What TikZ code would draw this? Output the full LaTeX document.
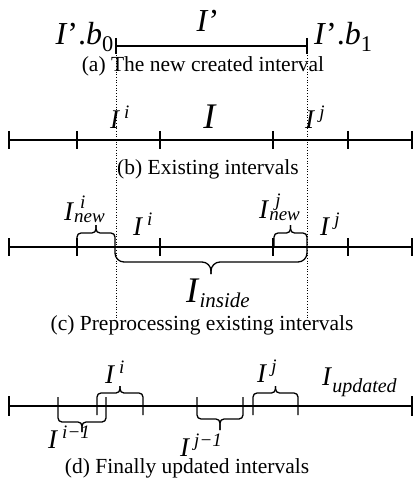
\documentclass[tikz,border=0pt]{standalone}
\usepackage{fontspec}
\setmainfont{Liberation Serif}
\newcommand{\Ix}{\textit{I}}
\newcommand{\Sp}[1]{\hspace{4pt}\raisebox{10pt}{\fontsize{19}{19}\selectfont\textit{#1}}}
\newcommand{\Sb}[3]{\raisebox{-#2}{\fontsize{#1}{#1}\selectfont\textit{#3}}}
\newcommand{\SpSb}[2]{\rlap{\hspace{6pt}\raisebox{12pt}{\fontsize{19}{19}\selectfont\textit{#1}}}\raisebox{-2pt}{\fontsize{19}{19}\selectfont\textit{#2}}}
\tikzset{
  axisline/.style={line width=1.8pt},
  tickline/.style={line width=1.3pt},
  brc/.style={line width=1.3pt, rounded corners=4pt},
  bigbrc/.style={line width=1.3pt, rounded corners=9pt},
  guide/.style={dotted, line width=0.7pt},
  captxt/.style={font=\fontsize{21.5}{24}\selectfont, anchor=base, inner sep=0pt},
  lbl/.style={font=\fontsize{27}{28}\selectfont, anchor=base west, inner sep=0pt},
  bigtxt/.style={font=\fontsize{36}{38}\selectfont, anchor=base west, inner sep=0pt},
  toptxt/.style={font=\fontsize{32}{34}\selectfont, inner sep=0pt},
}
\begin{document}
\begin{tikzpicture}[x=1pt,y=-1pt]
\useasboundingbox (0,0) rectangle (414,489);
% (a)
\coordinate (a0) at (116,46);
\coordinate (a1) at (307,46);
\draw[line width=2pt] (a0) -- (a1);
\draw[tickline] (116,38) -- (116,54) (307,38) -- (307,54);
\node[toptxt, anchor=base] (Ip) at (208,32) {\Ix’};
\node[toptxt, anchor=base east] (b0) at (114,45) {\Ix’.\textit{b}\textsubscript{0}};
\node[toptxt, anchor=base west] (b1) at (314,45) {\Ix’.\textit{b}\textsubscript{1}};
\node[captxt] (ca) at (203,72) {(a) The new created interval};
% guides
\coordinate (g0t) at (116,50);
\coordinate (g0b) at (116,318);
\coordinate (g1t) at (307,50);
\coordinate (g1b) at (307,318);
\draw[guide] (g0t) -- (g0b);
\draw[guide] (g1t) -- (g1b);
% (b)
\coordinate (bl) at (9,140);
\coordinate (br) at (412,140);
\draw[axisline] (bl) -- (br);
\foreach \x in {9,77,160,273,348,412} \draw[tickline] (\x,131) -- (\x,149);
\node[lbl] (bi) at (110,129) {\Ix\Sp{i}};
\node[bigtxt, anchor=base] (bI) at (210,129) {\Ix};
\node[lbl] (bj) at (305,129) {\Ix\Sp{j}};
\node[captxt] (cb) at (208,175) {(b) Existing intervals};
% (c)
\coordinate (cl) at (9,247);
\coordinate (cr) at (412,247);
\draw[axisline] (cl) -- (cr);
\foreach \x in {9,77,160,273,348,412} \draw[tickline] (\x,238) -- (\x,256);
\draw[brc] (77,247) -- (77,233) -- (96,233) -- (96,225);
\draw[brc] (115,247) -- (115,233) -- (96,233) -- (96,225);
\draw[brc] (274,247) -- (274,233) -- (290.5,233) -- (290.5,225);
\draw[brc] (307,247) -- (307,233) -- (290.5,233) -- (290.5,225);
\draw[bigbrc] (115,247) -- (115,262) -- (211,262) -- (211,274);
\draw[bigbrc] (307,247) -- (307,262) -- (211,262) -- (211,274);
\node[lbl] (cni) at (64,220) {\Ix\SpSb{i}{new}};
\node[lbl] (ci) at (133,235) {\Ix\Sp{i}};
\node[lbl] (cnj) at (259,218) {\Ix\SpSb{j}{new}};
\node[lbl] (cj) at (320,235) {\Ix\Sp{j}};
\node[bigtxt] (cin) at (186,302) {\Ix\Sb{21}{5pt}{inside}};
\node[captxt] (cc) at (202,330) {(c) Preprocessing existing intervals};
% (d)
\coordinate (dl) at (9,406);
\coordinate (dr) at (412,406);
\draw[axisline] (dl) -- (dr);
\draw[tickline] (9,396) -- (9,416) (412,396) -- (412,416);
% I^{i-1} below
\draw[brc] (58,397) -- (58,422) -- (82,422) -- (82,432);
\draw[brc] (106,397) -- (106,422) -- (82,422) -- (82,432);
% I^i above
\draw[brc] (97,415) -- (97,393) -- (120,393) -- (120,386);
\draw[brc] (143,415) -- (143,393) -- (120,393) -- (120,386);
% I^{j-1} below
\draw[brc] (197,397) -- (197,419) -- (220,419) -- (220,430);
\draw[brc] (243,397) -- (243,419) -- (220,419) -- (220,430);
% I^j above
\draw[brc] (253,415) -- (253,393) -- (275.5,393) -- (275.5,386);
\draw[brc] (298,415) -- (298,393) -- (275.5,393) -- (275.5,386);
\node[lbl] (di) at (105,383) {\Ix\Sp{i}};
\node[lbl] (dim) at (48,448) {\Ix\Sp{i−1}};
\node[lbl] (djm) at (180,456) {\Ix\Sp{j−1}};
\node[lbl] (dj) at (257,382) {\Ix\Sp{j}};
\node[lbl] (du) at (322,385) {\Ix\Sb{20}{7pt}{updated}};
\node[captxt] (cd) at (187,473) {(d) Finally updated intervals};
\end{tikzpicture}
\end{document}
